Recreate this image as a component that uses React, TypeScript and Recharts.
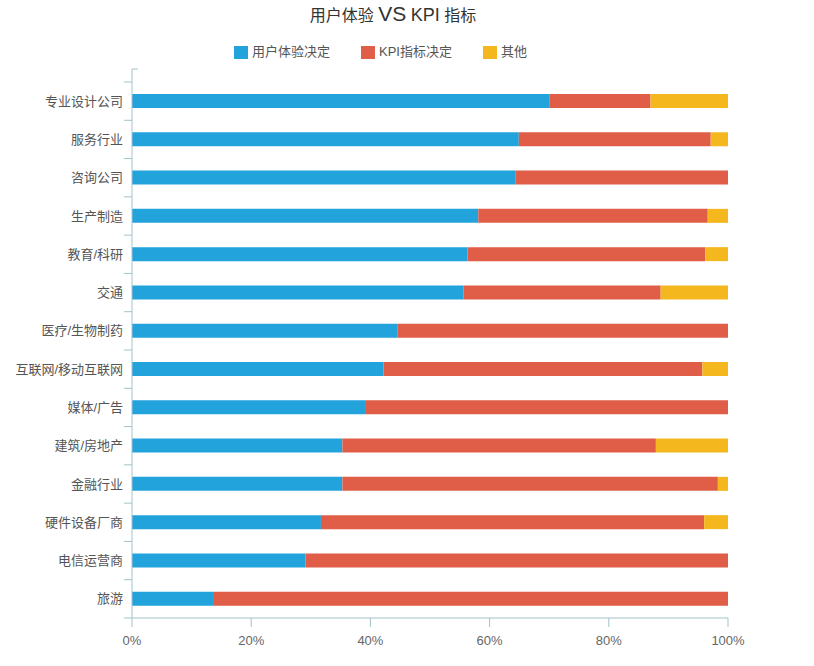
import { Bar, BarChart, XAxis, YAxis } from 'recharts';

const categories = [
  '专业设计公司',
  '服务行业',
  '咨询公司',
  '生产制造',
  '教育/科研',
  '交通',
  '医疗/生物制药',
  '互联网/移动互联网',
  '媒体/广告',
  '建筑/房地产',
  '金融行业',
  '硬件设备厂商',
  '电信运营商',
  '旅游',
];
const uxDecided = [70.1, 64.9, 64.3, 58.1, 56.3, 55.6, 44.5, 42.2, 39.1, 35.3, 35.3, 31.7, 29.1, 13.6];
const kpiDecided = [16.9, 32.2, 35.7, 38.5, 39.9, 33.1, 55.5, 53.5, 60.9, 52.6, 63.0, 64.3, 70.9, 86.4];
const others = [13.0, 2.9, 0, 3.4, 3.8, 11.3, 0, 4.3, 0, 12.1, 1.7, 4.0, 0, 0];
const xTicks = [0, 20, 40, 60, 80, 100];

const seriesNames = ['用户体验决定', 'KPI指标决定', '其他'];
const colors = ['#22a3dc', '#e05e48', '#f4b81e'];
const axisColor = '#a3c2cc';
const font = '"Liberation Sans", "Noto Sans CJK SC", sans-serif';
const topPad = 13;

const data = categories.map((name, i) => ({
  name,
  ux: uxDecided[i],
  kpi: kpiDecided[i],
  other: others[i],
}));

// echarts-style category axis: tick marks sit on band boundaries, not centres
function CategoryTick(props: any) {
  const { x, y, payload, index } = props;
  const half = payload?.offset || 19.15;
  const last = index === categories.length - 1;
  return (
    <g>
      <line x1={x + 1} x2={x + 9} y1={y - half} y2={y - half} stroke={axisColor} />
      {index === 0 && (
        <line x1={x + 9} x2={x + 15} y1={y - half - topPad} y2={y - half - topPad} stroke={axisColor} />
      )}
      {last && <line x1={x + 1} x2={x + 9} y1={y + half} y2={y + half} stroke={axisColor} />}
      <text x={x} y={y} dy="0.35em" textAnchor="end" fill="#555" fontSize={13} fontFamily={font}>
        {payload.value}
      </text>
    </g>
  );
}

export default function App() {
  return (
    <div style={{ position: 'absolute', left: 0, top: 0, width: 814, height: 666, background: '#fff', fontFamily: font }}>
      <div
        style={{
          position: 'absolute',
          left: 0,
          top: 2,
          width: 786,
          textAlign: 'center',
          fontSize: 16,
          color: '#333',
          lineHeight: '24px',
        }}
      >
        用户体验 <span style={{ fontSize: 21 }}>VS</span> <span style={{ fontSize: 18 }}>KPI</span> 指标
      </div>
      <div
        style={{
          position: 'absolute',
          left: 234,
          top: 43,
          display: 'flex',
          alignItems: 'center',
          fontSize: 13,
          color: '#555',
          lineHeight: '18px',
        }}
      >
        {seriesNames.map((s, i) => (
          <div key={s} style={{ display: 'flex', alignItems: 'center', marginRight: 31 }}>
            <span style={{ width: 14, height: 13, background: colors[i], marginRight: 4, display: 'inline-block' }} />
            {s}
          </div>
        ))}
      </div>
      <BarChart
        width={814}
        height={666}
        data={data}
        layout="vertical"
        margin={{ top: 69, right: 86, bottom: 18, left: 0 }}
      >
        <XAxis
          type="number"
          domain={[0, 100]}
          ticks={xTicks}
          tickFormatter={(v) => `${v}%`}
          axisLine={{ stroke: axisColor }}
          tickLine={{ stroke: axisColor }}
          tickSize={9}
          tickMargin={9}
          height={30}
          tick={{ fill: '#666', fontSize: 13, fontFamily: font }}
        />
        <YAxis
          type="category"
          dataKey="name"
          width={132}
          padding={{ top: topPad, bottom: 0 }}
          axisLine={{ stroke: axisColor }}
          tickLine={false}
          tickSize={8}
          tickMargin={1}
          interval={0}
          tick={<CategoryTick />}
        />
        <Bar dataKey="ux" stackId="a" fill={colors[0]} barSize={14} name={seriesNames[0]} isAnimationActive={false} />
        <Bar dataKey="kpi" stackId="a" fill={colors[1]} barSize={14} name={seriesNames[1]} isAnimationActive={false} />
        <Bar dataKey="other" stackId="a" fill={colors[2]} barSize={14} name={seriesNames[2]} isAnimationActive={false} />
      </BarChart>
    </div>
  );
}
